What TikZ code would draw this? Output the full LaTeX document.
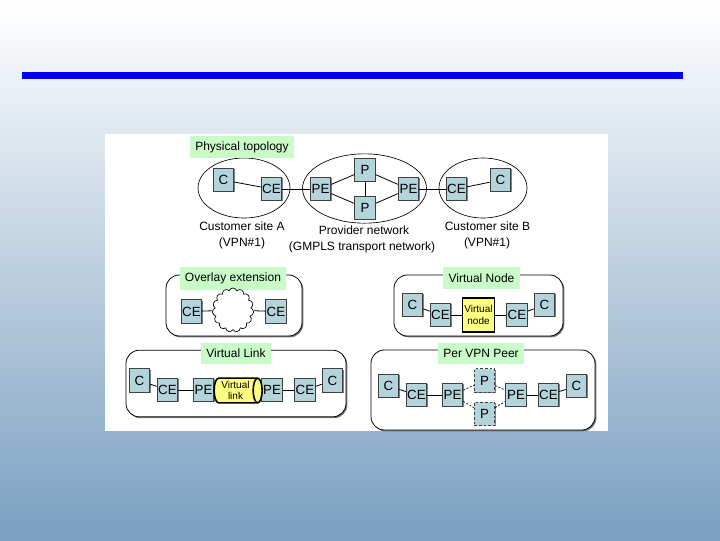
\documentclass[tikz,border=0pt]{standalone}
\usepackage{fontspec}
\setmainfont{Liberation Sans}
\usetikzlibrary{shadows,shapes.geometric,shapes.symbols}
\definecolor{boxteal}{HTML}{B4D4DC}
\definecolor{labgreen}{HTML}{C8FBC8}
\definecolor{virtyellow}{HTML}{FFFF80}
\definecolor{bgmid}{HTML}{C4D5E4}
\definecolor{bgbot}{HTML}{7A9FC0}
\tikzset{
	devbox/.style={draw=black!75, fill=boxteal, line width=0.6pt, minimum width=15.5pt, minimum height=17.5pt, inner sep=0pt, font=\fontsize{10}{10}\selectfont, drop shadow={shadow xshift=0.5pt, shadow yshift=-0.5pt, fill=black!50, opacity=1}},
	dashbox/.style={devbox, dash pattern=on 2pt off 1.5pt},
	site/.style={draw, ellipse, line width=0.5pt, inner sep=0pt},
	group/.style={draw, rounded corners=10pt, fill=white, line width=0.6pt, inner sep=0pt, drop shadow={shadow xshift=1pt, shadow yshift=-1pt, fill=black!55, opacity=1}},
	lab/.style={fill=labgreen, inner sep=0pt, font=\fontsize{9}{9}\selectfont},
	txt/.style={inner sep=0pt, font=\fontsize{9}{9}\selectfont},
	link/.style={line width=0.6pt},
	dlink/.style={line width=0.5pt, dash pattern=on 1.5pt off 1.2pt}
}
\begin{document}
\begin{tikzpicture}[x=0.75pt, y=-0.75pt]
	%%%%% BACKGROUND %%%%%
	\useasboundingbox (0, 0) rectangle (720, 540);
	\shade[top color=white, middle color=bgmid, bottom color=bgbot] (0, 0) rectangle (720, 540);
	\fill[blue] (22, 72) rectangle (683, 79);
	\fill[white] (105, 134) rectangle (608, 431);

	%%%%% PHYSICAL TOPOLOGY %%%%%
	\node[site, minimum width=69pt, minimum height=45pt] (siteA) at (244, 188) {};
	\node[site, minimum width=93pt, minimum height=52pt] (siteP) at (364.5, 188.5) {};
	\node[site, minimum width=66pt, minimum height=45pt] (siteB) at (483, 188) {};
	\node[lab, minimum width=78pt, minimum height=16.5pt] (labTop) at (242, 147) {Physical topology};

	\node[devbox] (cA) at (223.5, 180) {C};
	\node[devbox] (ceA) at (271.5, 189) {CE};
	\node[devbox] (peA) at (320.5, 189) {PE};
	\node[devbox] (pT) at (365, 170) {P};
	\node[devbox] (pB) at (365, 208) {P};
	\node[devbox] (peB) at (408.5, 189) {PE};
	\node[devbox] (ceB) at (456.5, 189) {CE};
	\node[devbox] (cB) at (500.5, 180) {C};

	\draw[link] (cA) -- (ceA);
	\draw[link] (ceA) -- (peA);
	\draw[link] (peA) -- (pT);
	\draw[link] (peA) -- (pB);
	\draw[link] (pT) -- (pB);
	\draw[link] (pT) -- (peB);
	\draw[link] (pB) -- (peB);
	\draw[link] (peB) -- (ceB);
	\draw[link] (ceB) -- (cB);

	\node[txt] (txtA) at (242, 226) {Customer site A};
	\node[txt] (vpnA) at (242, 243) {(VPN\#1)};
	\node[txt] (txtP) at (364, 230) {Provider network};
	\node[txt] (txtG) at (362, 247) {(GMPLS transport network)};
	\node[txt] (txtB) at (487.5, 226) {Customer site B};
	\node[txt] (vpnB) at (487, 243) {(VPN\#1)};

	%%%%% OVERLAY EXTENSION %%%%%
	\node[group, minimum width=102pt, minimum height=45.75pt] (grpO) at (234, 305.5) {};
	\node[lab, minimum width=79.5pt, minimum height=17pt] (labO) at (233, 278.5) {Overlay extension};
	\node[devbox] (ceO1) at (191.5, 311.5) {CE};
	\node[devbox] (ceO2) at (276, 311.5) {CE};
	\node[draw, cloud, cloud puffs=15, aspect=0.95, fill=white, line width=0.5pt, minimum width=31pt, minimum height=33pt, inner sep=0pt] (cloudO) at (233, 310) {};
	\draw[link] (ceO1) -- (cloudO);
	\draw[link] (cloudO) -- (ceO2);

	%%%%% VIRTUAL LINK %%%%%
	\node[group, minimum width=165pt, minimum height=50pt] (grpL) at (236, 383.5) {};
	\node[lab, minimum width=52.5pt, minimum height=16pt] (labL) at (236, 353.5) {Virtual Link};
	\node[devbox] (cL1) at (139.5, 380.5) {C};
	\node[devbox] (ceL1) at (167.5, 390) {CE};
	\node[devbox] (peL1) at (203.5, 390) {PE};
	\node[devbox] (peL2) at (272, 390) {PE};
	\node[devbox] (ceL2) at (305, 390) {CE};
	\node[devbox] (cL2) at (332.5, 380.5) {C};
	\node[draw, cylinder, aspect=0.5, fill=virtyellow, line width=1.2pt, minimum width=18.5pt, minimum height=36pt, inner sep=0pt, align=center, font=\fontsize{7.5}{8}\selectfont] (tunL) at (235.5, 390.5) {Virtual\\link};
	\draw[link] (cL1) -- (ceL1);
	\draw[link] (ceL1) -- (peL1);
	\draw[link] (peL2) -- (ceL2);
	\draw[link] (ceL2) -- (cL2);

	%%%%% VIRTUAL NODE %%%%%
	\node[group, minimum width=126.75pt, minimum height=45.75pt] (grpN) at (478.5, 305.5) {};
	\node[lab, minimum width=57.75pt, minimum height=16.5pt] (labN) at (481.5, 278) {Virtual Node};
	\node[devbox] (cN1) at (412.5, 305) {C};
	\node[devbox] (ceN1) at (440.5, 315) {CE};
	\node[draw, line width=1.4pt, fill=virtyellow, minimum width=24pt, minimum height=25pt, inner sep=0pt, align=center, font=\fontsize{7.5}{9}\selectfont] (vnode) at (478.5, 315) {Virtual\\node};
	\node[devbox] (ceN2) at (517, 315) {CE};
	\node[devbox] (cN2) at (544.5, 305) {C};
	\draw[link] (cN1) -- (ceN1);
	\draw[link] (ceN1) -- (vnode);
	\draw[link] (vnode) -- (ceN2);
	\draw[link] (ceN2) -- (cN2);

	%%%%% PER VPN PEER %%%%%
	\node[group, minimum width=168pt, minimum height=60pt] (grpV) at (483, 390) {};
	\node[lab, minimum width=64.5pt, minimum height=16pt] (labV) at (481, 353.5) {Per VPN Peer};
	\node[devbox] (cV1) at (388.5, 386) {C};
	\node[devbox] (ceV1) at (416.5, 395) {CE};
	\node[devbox] (peV1) at (452.5, 395) {PE};
	\node[dashbox] (pV1) at (484.5, 380.5) {P};
	\node[dashbox] (pV2) at (484.5, 414) {P};
	\node[devbox] (peV2) at (516, 395) {PE};
	\node[devbox] (ceV2) at (548.5, 395) {CE};
	\node[devbox] (cV2) at (576.5, 386) {C};
	\draw[link] (cV1) -- (ceV1);
	\draw[link] (ceV1) -- (peV1);
	\draw[dlink] (peV1) -- (pV1);
	\draw[dlink] (peV1) -- (pV2);
	\draw[dlink] (pV1) -- (peV2);
	\draw[dlink] (pV2) -- (peV2);
	\draw[link] (peV2) -- (ceV2);
	\draw[link] (ceV2) -- (cV2);
\end{tikzpicture}
\end{document}
